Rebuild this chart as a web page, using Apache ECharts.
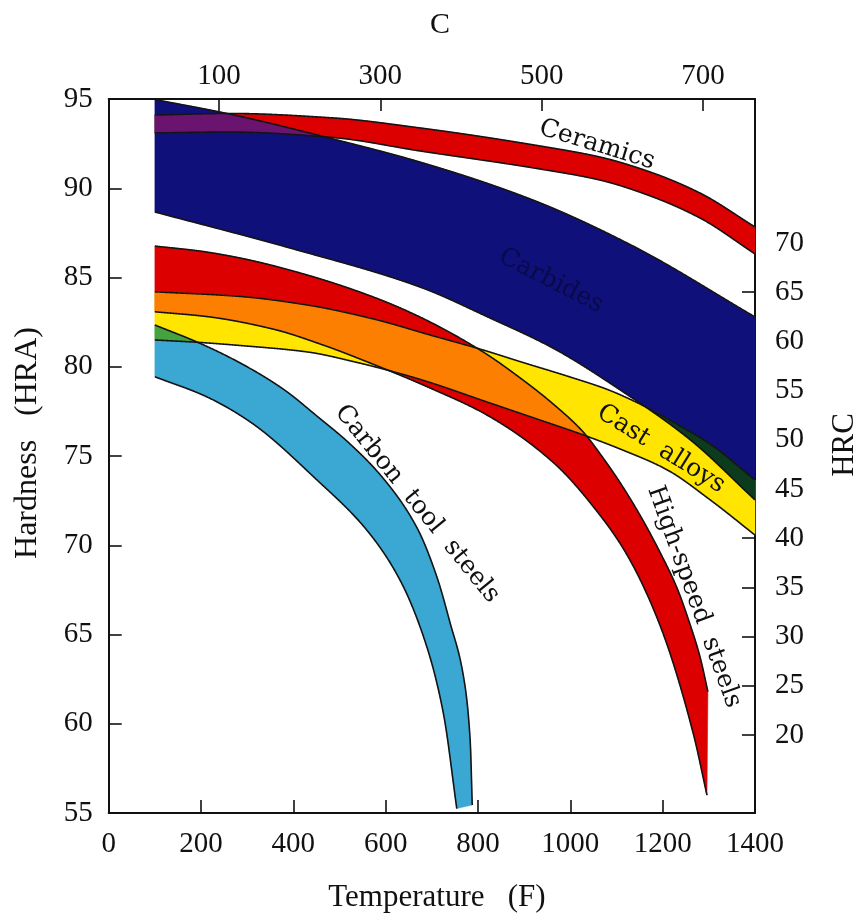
<!DOCTYPE html>
<html><head><meta charset="utf-8">
<script src="https://cdn.jsdelivr.net/npm/echarts@6/dist/echarts.min.js"></script>
<style>html,body{margin:0;padding:0;background:#fff}#c{width:863px;height:917px}</style>
</head><body><div id="c"></div>
<script>
// ---- tick labels ----
const fTicks = [0, 200, 400, 600, 800, 1000, 1200, 1400];
const cTicks = [100, 300, 500, 700];
const hraTicks = [55, 60, 65, 70, 75, 80, 85, 90, 95];
const hrcTicks = [20, 25, 30, 35, 40, 45, 50, 55, 60, 65, 70];

// ---- band boundaries: [temperature F, hardness HRA] ----
const ceramicsTop = [[100,94.1],[263,94.19],[486,93.94],[674,93.38],[934,92.37],[1064,91.75],[1173,90.91],[1281,89.73],[1400,87.83]];
const ceramicsBottom = [[100,93.1],[263,93.15],[486,92.84],[674,92.09],[934,91.08],[1064,90.46],[1173,89.57],[1281,88.33],[1400,86.32]];

const carbidesTop = [[100,94.97],[256,94.19],[486,92.76],[674,91.47],[919,89.34],[1136,86.76],[1400,82.79]];
const carbidesBottom = [[100,88.67],[393,86.65],[674,84.47],[826,82.73],[962,81.05],[1108,78.7],[1260,75.9],[1400,72.54]];

const hssTop = [[100,86.76],[198,86.48],[285,86.09],[430,85.14],[573,83.91],[674,82.79],[811,80.83],[891,79.38],[963,77.91],[1028,76.34],[1071,74.89],[1114,73.26],[1157,71.41],[1194,69.62],[1231,67.61],[1259,65.59],[1281,63.74],[1298,61.8]];
const hssBottom = [[100,83.08],[213,82.81],[356,82.11],[464,81.22],[572,80.15],[696,78.81],[819,77.3],[962,74.66],[1064,71.69],[1123,69.45],[1194,65.53],[1266,59.48],[1296,56.0]];

const castTop = [[100,84.2],[284,83.94],[430,83.46],[573,82.68],[696,81.78],[811,80.94],[891,80.29],[999,79.43],[1080,78.73],[1151,77.91],[1238,76.68],[1303,75.67],[1400,73.66]];
const castBottom = [[100,81.5],[198,81.36],[285,81.19],[430,80.83],[538,80.24],[646,79.51],[696,79.12],[819,78.03],[928,77.07],[1028,76.18],[1108,75.39],[1210,74.22],[1303,72.54],[1400,70.57]];

const carbonTop = [[100,82.34],[198,81.31],[285,80.21],[378,78.75],[451,77.24],[523,75.67],[594,73.77],[668,70.97],[711,68.22],[739,65.7],[768,62.73],[783,59.08],[787.5,55.45]];
const carbonBottom = [[100,79.44],[212,78.32],[306,76.92],[451,73.66],[559,70.85],[631,68.05],[689,64.32],[725,60.58],[754,55.25]];

// ---- band styling ----
const bands = [
  { name: 'Ceramics', top: ceramicsTop, bottom: ceramicsBottom, color: '#dd0000' },
  { name: 'Carbides', top: carbidesTop, bottom: carbidesBottom, color: '#10107a' },
  { name: 'High-speed steels', top: hssTop, bottom: hssBottom, color: '#dd0000' },
  { name: 'Cast alloys', top: castTop, bottom: castBottom, color: '#ffe500' },
  { name: 'Carbon tool steels', top: carbonTop, bottom: carbonBottom, color: '#3aa8d2' }
];
const overlaps = [
  { a: 0, b: 1, color: '#6a1470' },
  { a: 2, b: 3, color: '#fd7f02' },
  { a: 3, b: 4, color: '#45a33f' },
  { a: 1, b: 3, color: '#0c3b1e' }
];

// monotone cubic (Fritsch-Butland) used only for drawing smooth boundaries
function makeSpline(pts) {
  const n = pts.length, xs = pts.map(p => p[0]), ys = pts.map(p => p[1]);
  const d = [], m = [];
  for (let i = 0; i < n - 1; i++) d[i] = (ys[i + 1] - ys[i]) / (xs[i + 1] - xs[i]);
  m[0] = d[0]; m[n - 1] = d[n - 2];
  for (let i = 1; i < n - 1; i++) {
    if (d[i - 1] * d[i] <= 0) { m[i] = 0; continue; }
    const h0 = xs[i] - xs[i - 1], h1 = xs[i + 1] - xs[i];
    const w1 = 2 * h1 + h0, w2 = h1 + 2 * h0;
    m[i] = (w1 + w2) / (w1 / d[i - 1] + w2 / d[i]);
  }
  const f = function (x) {
    if (x <= xs[0]) return ys[0];
    if (x >= xs[n - 1]) return ys[n - 1];
    let k = 0;
    while (k < n - 2 && x > xs[k + 1]) k++;
    const h = xs[k + 1] - xs[k], t = (x - xs[k]) / h;
    const t2 = t * t, t3 = t2 * t;
    return (2 * t3 - 3 * t2 + 1) * ys[k] + (t3 - 2 * t2 + t) * h * m[k] +
           (-2 * t3 + 3 * t2) * ys[k + 1] + (t3 - t2) * h * m[k + 1];
  };
  f.x0 = xs[0]; f.x1 = xs[n - 1];
  return f;
}
function sampleCurve(sp) {
  const out = [];
  for (let x = sp.x0; x < sp.x1; x += 1) out.push([x, sp(x)]);
  out.push([sp.x1, sp(sp.x1)]);
  return out;
}
bands.forEach(b => { b.sTop = makeSpline(b.top); b.sBot = makeSpline(b.bottom); });

function renderBand(params, api) {
  const b = bands[params.dataIndex];
  const t = sampleCurve(b.sTop).map(p => api.coord(p));
  const bo = sampleCurve(b.sBot).reverse().map(p => api.coord(p));
  return { type: 'polygon', shape: { points: t.concat(bo) }, style: { fill: b.color, stroke: b.color, lineWidth: 0.5 } };
}
function renderOverlap(params, api) {
  const o = overlaps[params.dataIndex];
  const A = bands[o.a], B = bands[o.b];
  const lo = Math.max(A.sTop.x0, A.sBot.x0, B.sTop.x0, B.sBot.x0);
  const hi = Math.min(A.sTop.x1, A.sBot.x1, B.sTop.x1, B.sBot.x1);
  const runs = []; let cur = null;
  for (let x = lo; x <= hi + 1e-9; x += 1) {
    const xx = Math.min(x, hi);
    const tv = Math.min(A.sTop(xx), B.sTop(xx)), bv = Math.max(A.sBot(xx), B.sBot(xx));
    if (tv > bv) { if (!cur) { cur = []; runs.push(cur); } cur.push([xx, tv, bv]); }
    else cur = null;
  }
  const children = runs.filter(r => r.length > 1).map(r => {
    const up = r.map(p => api.coord([p[0], p[1]]));
    const dn = r.slice().reverse().map(p => api.coord([p[0], p[2]]));
    return { type: 'polygon', shape: { points: up.concat(dn) }, style: { fill: o.color } };
  });
  return { type: 'group', children: children };
}
function renderOutline(params, api) {
  const b = bands[params.dataIndex];
  const mk = sp => ({ type: 'polyline', shape: { points: sampleCurve(sp).map(p => api.coord(p)) },
                      style: { stroke: '#141414', lineWidth: 1.6, fill: null } });
  return { type: 'group', children: [mk(b.sTop), mk(b.sBot)] };
}

const serif = '"Liberation Serif", "Times New Roman", serif';
const labelSerif = '"DejaVu Serif", serif';
const axisLine = { show: true, onZero: false, lineStyle: { color: '#111', width: 2 } };
const tickStyle = { color: '#111', width: 1.6 };
const plain = v => String(v);

const chart = echarts.init(document.getElementById('c'), null, { renderer: 'canvas' });
chart.setOption({
  animation: false,
  backgroundColor: '#fff',
  grid: { left: 108.7, right: 108, top: 99, bottom: 104, containLabel: false },
  xAxis: [
    { type: 'value', position: 'bottom', min: 0, max: 1400, interval: 200,
      axisLine: axisLine, splitLine: { show: false },
      axisTick: { show: true, inside: true, length: 13, lineStyle: tickStyle },
      axisLabel: { color: '#111', fontFamily: serif, fontSize: 29, margin: 17, formatter: plain } },
    { type: 'value', position: 'top', min: -36.7, max: 764.5,
      axisLine: axisLine, splitLine: { show: false },
      axisTick: { show: true, inside: true, length: 12, lineStyle: tickStyle, customValues: cTicks },
      axisLabel: { color: '#111', fontFamily: serif, fontSize: 29, margin: 8, customValues: cTicks, formatter: plain } }
  ],
  yAxis: [
    { type: 'value', position: 'left', min: 55, max: 95, interval: 5,
      axisLine: axisLine, splitLine: { show: false },
      axisTick: { show: true, inside: true, length: 13, lineStyle: tickStyle },
      axisLabel: { color: '#111', fontFamily: serif, fontSize: 29, margin: 16, formatter: plain } },
    { type: 'value', position: 'right', min: 12.07, max: 84.63,
      axisLine: axisLine, splitLine: { show: false },
      axisTick: { show: true, inside: true, length: 13, lineStyle: tickStyle, customValues: hrcTicks },
      axisLabel: { color: '#111', fontFamily: serif, fontSize: 29, margin: 20, customValues: hrcTicks, formatter: plain } }
  ],
  series: [
    { type: 'custom', name: 'bands', xAxisIndex: 0, yAxisIndex: 0, clip: true, z: 2, silent: true,
      data: bands.map((b, i) => [i]), renderItem: renderBand },
    { type: 'custom', name: 'overlaps', xAxisIndex: 0, yAxisIndex: 0, clip: true, z: 3, silent: true,
      data: overlaps.map((o, i) => [i]), renderItem: renderOverlap },
    { type: 'custom', name: 'outlines', xAxisIndex: 0, yAxisIndex: 0, clip: true, z: 4, silent: true,
      data: bands.map((b, i) => [i]), renderItem: renderOutline }
  ],
  graphic: [
    { type: 'text', x: 440, y: 25, style: { text: 'C', font: '30px ' + serif, fill: '#111', align: 'center', verticalAlign: 'middle' } },
    { type: 'text', x: 437, y: 898, style: { text: 'Temperature   (F)', font: '31px ' + serif, fill: '#111', align: 'center', verticalAlign: 'middle' } },
    { type: 'text', x: 28, y: 443, rotation: Math.PI / 2, style: { text: 'Hardness   (HRA)', font: '32px ' + serif, fill: '#111', align: 'center', verticalAlign: 'middle' } },
    { type: 'text', x: 845, y: 445, rotation: Math.PI / 2, style: { text: 'HRC', font: '31px ' + serif, fill: '#111', align: 'center', verticalAlign: 'middle' } },
    { type: 'text', x: 597, y: 145, rotation: -17 * Math.PI / 180, z: 10, style: { text: 'Ceramics', font: '25px ' + labelSerif, fill: '#111', align: 'center', verticalAlign: 'middle' } },
    { type: 'text', x: 551, y: 281, rotation: -27 * Math.PI / 180, z: 10, style: { text: 'Carbides', font: '25px ' + labelSerif, fill: '#0a0a48', align: 'center', verticalAlign: 'middle' } },
    { type: 'text', x: 661, y: 449, rotation: -32 * Math.PI / 180, z: 10, style: { text: 'Cast  alloys', font: '25px ' + labelSerif, fill: '#111', align: 'center', verticalAlign: 'middle' } },
    { type: 'text', x: 417, y: 504, rotation: -51 * Math.PI / 180, z: 10, style: { text: 'Carbon  tool  steels', font: '25px ' + labelSerif, fill: '#111', align: 'center', verticalAlign: 'middle' } },
    { type: 'text', x: 694, y: 597, rotation: -70 * Math.PI / 180, z: 10, style: { text: 'High-speed  steels', font: '25px ' + labelSerif, fill: '#111', align: 'center', verticalAlign: 'middle' } }
  ]
});
</script>
</body></html>
